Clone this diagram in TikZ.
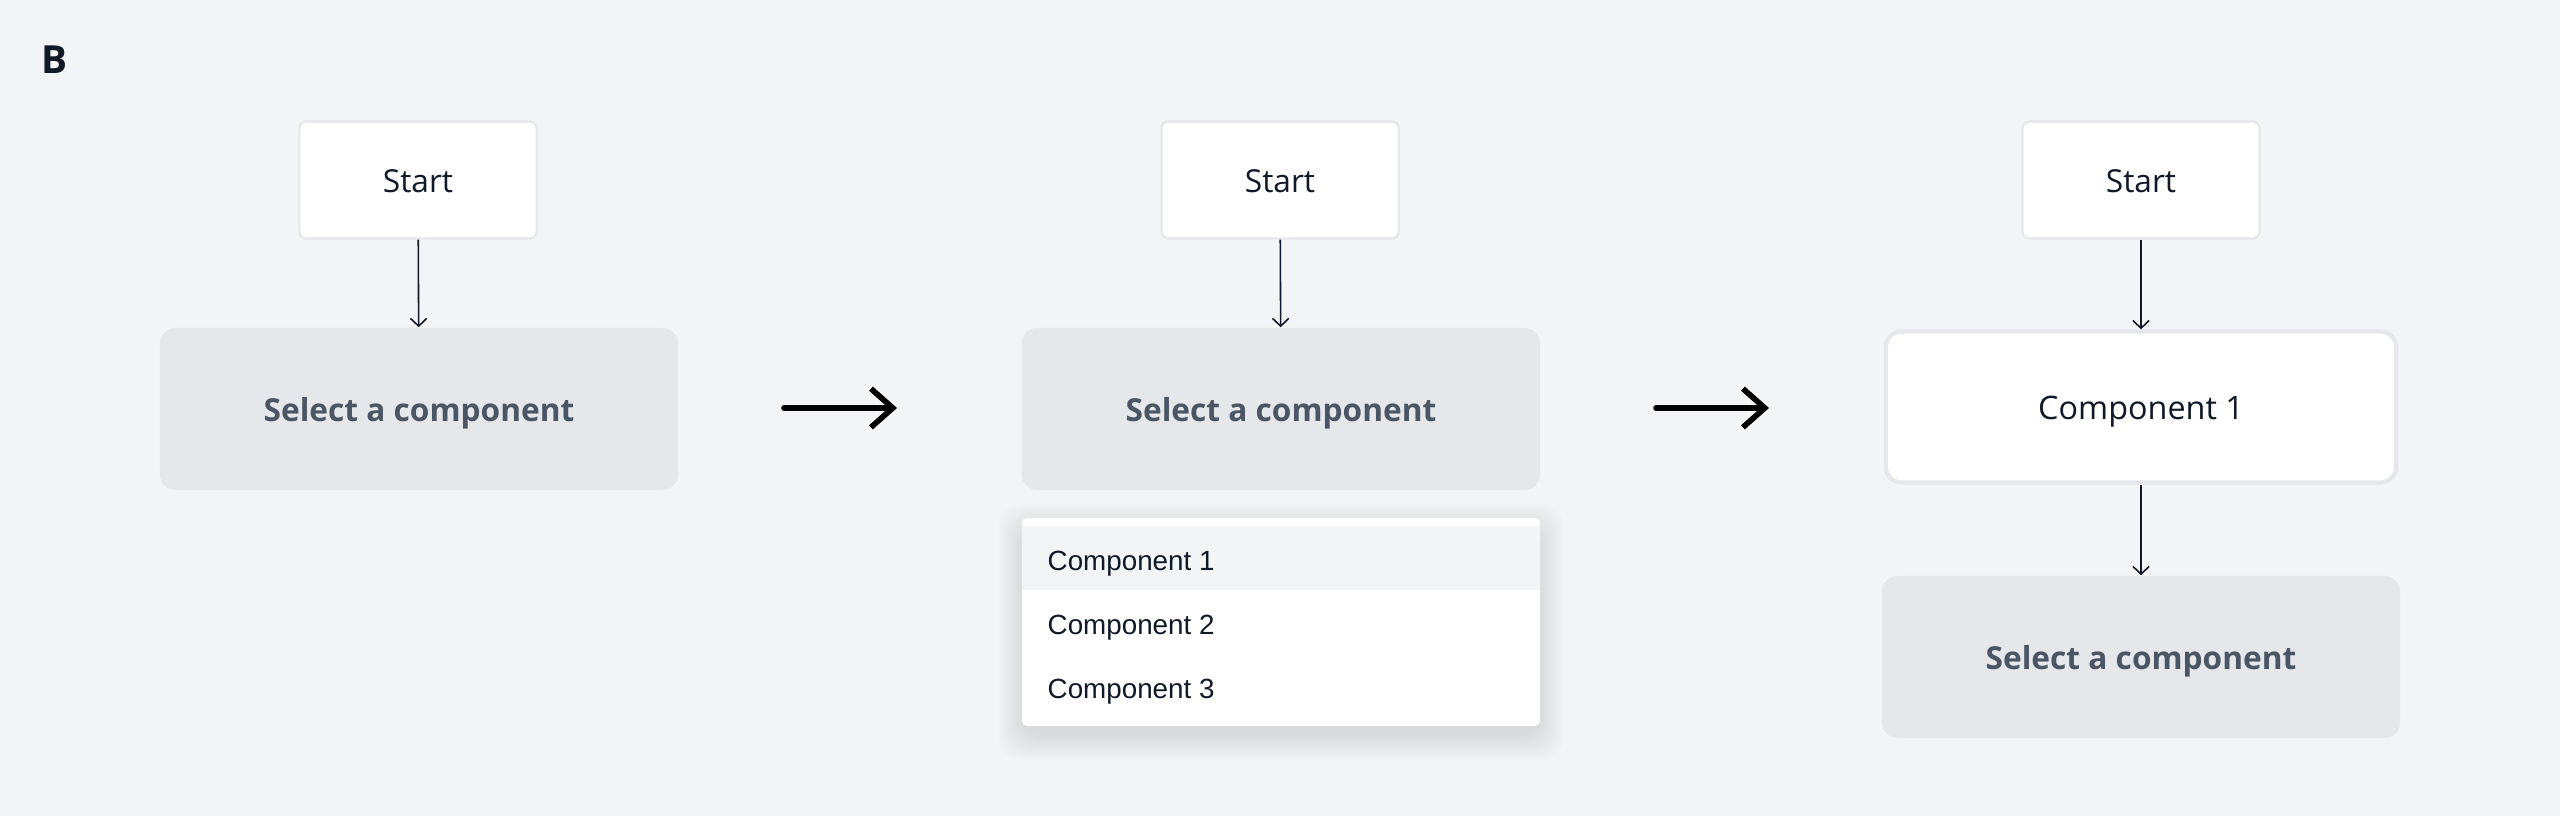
\documentclass[tikz,border=0pt]{standalone}
\usepackage{fontspec}
\setmainfont{Open Sans}
\newfontfamily\menufont{Liberation Sans}
\usepackage{tikz}
\usetikzlibrary{arrows.meta}
\usetikzlibrary{positioning}
\definecolor{bgcol}{HTML}{F3F4F6}
\definecolor{boxgray}{HTML}{E5E7EB}
\definecolor{txtdark}{HTML}{111827}
\definecolor{txtgray}{HTML}{4B5563}
\tikzset{
  capbox/.style={text height=0.714em, text depth=0pt},
  startbox/.style={capbox, draw=boxgray, line width=0.6pt, fill=white, rounded corners=2pt,
    minimum width=2.37cm, minimum height=1.17cm, text=txtdark,
    font=\fontsize{9pt}{11pt}\selectfont},
  selectbox/.style={capbox, fill=boxgray, rounded corners=4.5pt, minimum width=5.18cm,
    minimum height=1.62cm, text=txtgray, font=\fontsize{9pt}{11pt}\selectfont\bfseries},
  compbox/.style={capbox, draw=boxgray, line width=1.2pt, fill=white, rounded corners=4.5pt,
    minimum width=5.10cm, minimum height=1.51cm, text=txtdark,
    font=\fontsize{9.2pt}{11pt}\selectfont},
  flow/.style={draw=txtdark, line width=0.45pt, -{Straight Barb[length=2.2pt,width=4.6pt]}},
  bigarrow/.style={draw=black, line width=1.6pt, line cap=round,
    -{Straight Barb[length=6.2pt,width=11pt]}},
  menuitem/.style={capbox, anchor=west, inner sep=0pt, text=txtdark,
    font=\menufont\fontsize{7.9pt}{10pt}\selectfont}
}
\begin{document}
\begin{tikzpicture}[x=0.01cm,y=-0.01cm]
    \fill[bgcol] (0,0) rectangle (2560,816);
    \useasboundingbox (0,0) rectangle (2560,816);
    \node[capbox, text=txtdark, font=\fontsize{11pt}{13pt}\selectfont\bfseries] (lab) at (54,61) {B};

    % first state
    \node[startbox] (start1) at (418,180) {Start};
    \node[selectbox] (sel1) at (419,409) {Select a component};
    \draw[flow] (start1) -- (sel1);

    \coordinate (go1a) at (784,408);
    \coordinate (go1b) at (897,408);
    \draw[bigarrow] (go1a) -- (go1b);

    % second state, menu open
    \foreach \s in {0,2,...,24}
        \fill[black, opacity=0.007, rounded corners=6pt] (1022-\s,518-\s+10) rectangle (1540+\s,726+\s+10);
    \node[startbox] (start2) at (1280,180) {Start};
    \node[selectbox] (sel2) at (1281,409) {Select a component};
    \draw[flow] (start2) -- (sel2);
    \node[fill=white, rounded corners=1.5pt, minimum width=5.18cm, minimum height=2.08cm] (menu) at (1281,622) {};
    \fill[bgcol] (1022,526) rectangle (1540,590);
    \node[menuitem] (item1) at (1047,558) {Component 1};
    \node[menuitem] (item2) at (1047,622) {Component 2};
    \node[menuitem] (item3) at (1047,686) {Component 3};

    \coordinate (go2a) at (1656,408);
    \coordinate (go2b) at (1769,408);
    \draw[bigarrow] (go2a) -- (go2b);

    % third state
    \node[startbox] (start3) at (2141,180) {Start};
    \node[compbox] (comp3) at (2141,407) {Component 1};
    \node[selectbox] (sel3) at (2141,657) {Select a component};
    \draw[flow] (start3) -- (comp3);
    \draw[flow] (comp3) -- (sel3);
\end{tikzpicture}
\end{document}
